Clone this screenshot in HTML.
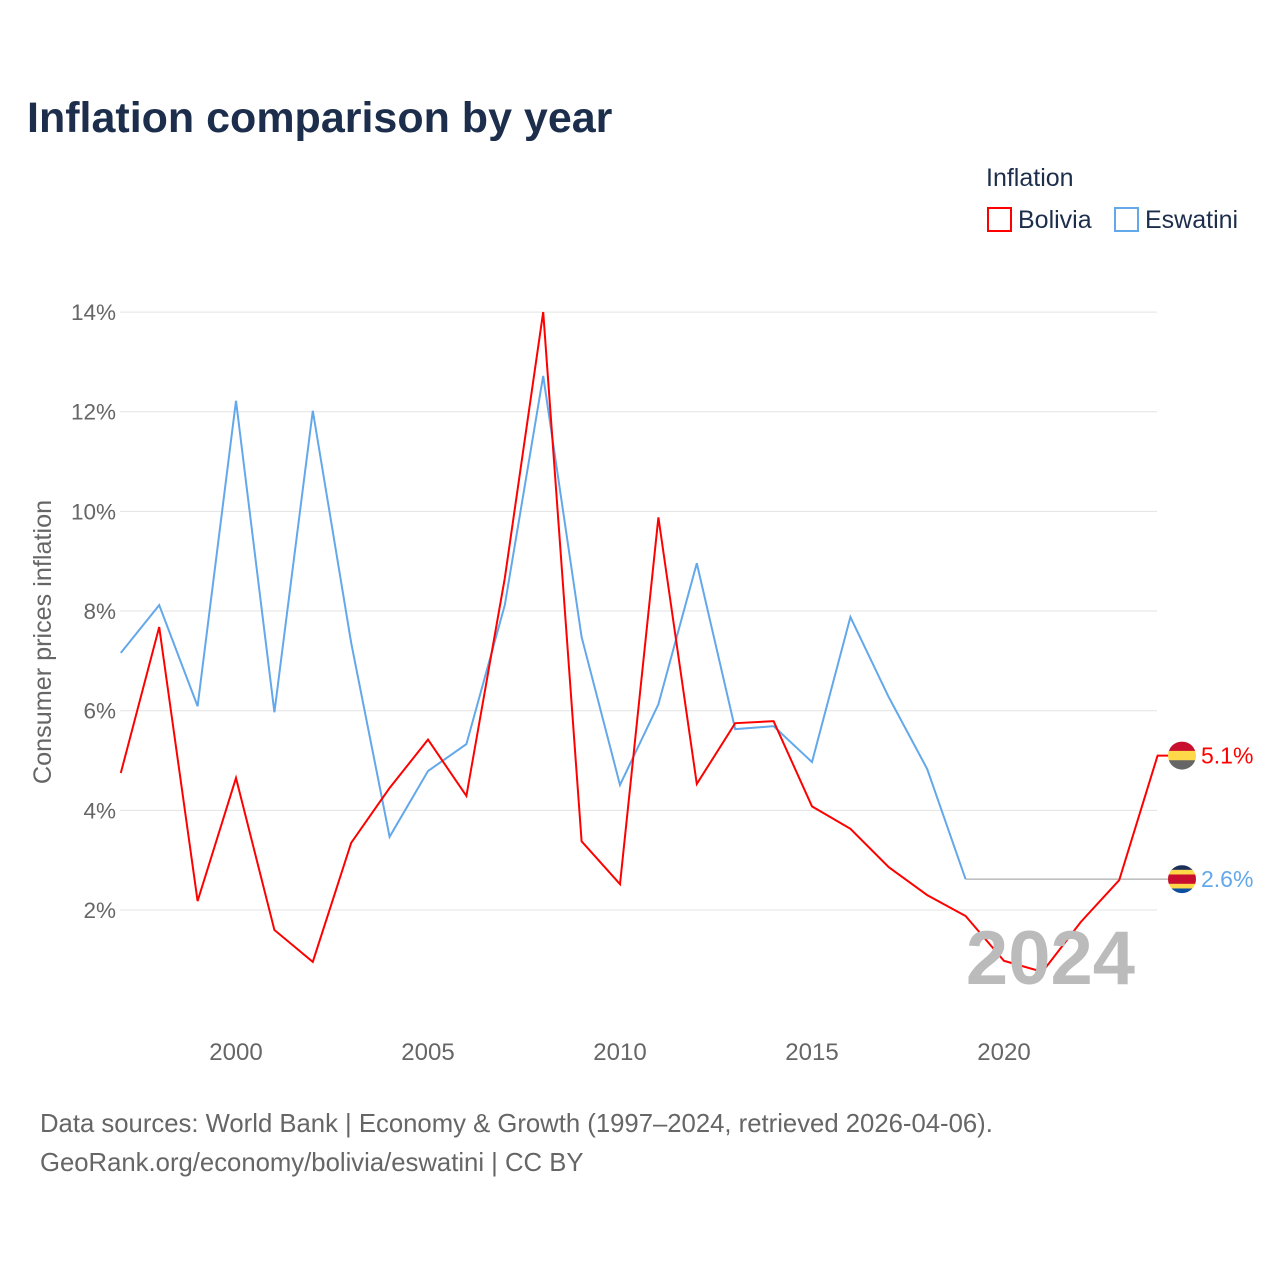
<!DOCTYPE html>
<html><head><meta charset="utf-8"><style>
body{margin:0;background:#fff;font-family:"Liberation Sans",sans-serif;}
</style></head><body>
<svg id="chart" width="1280" height="1280" xmlns="http://www.w3.org/2000/svg">
<text x="27" y="132" font-size="43" font-weight="bold" fill="#1c2e4c">Inflation comparison by year</text>
<text x="986" y="186" font-size="25" fill="#1c2e4c">Inflation</text>
<g><rect x="988" y="208" width="23" height="23" fill="none" stroke="#ff0000" stroke-width="2"/><text x="1018" y="228" font-size="25" fill="#1c2e4c">Bolivia</text></g>
<g><rect x="1115" y="208" width="23" height="23" fill="none" stroke="#62a8ea" stroke-width="2"/><text x="1145" y="228" font-size="25" fill="#1c2e4c">Eswatini</text></g>
<text transform="translate(51,642) rotate(-90)" text-anchor="middle" font-size="25.2" fill="#666">Consumer prices inflation</text>
<g id="grid"></g><g id="marks"></g>
<text x="1135" y="984" text-anchor="end" font-size="76" font-weight="bold" fill="#bbbbbb">2024</text>
<text x="40" y="1132" font-size="25.7" fill="#666">Data sources: World Bank | Economy &amp; Growth (1997–2024, retrieved 2026-04-06).</text>
<text x="40" y="1171" font-size="25.7" fill="#666">GeoRank.org/economy/bolivia/eswatini | CC BY</text>
</svg>
<script>
const years=[1997,1998,1999,2000,2001,2002,2003,2004,2005,2006,2007,2008,2009,2010,2011,2012,2013,2014,2015,2016,2017,2018,2019,2020,2021,2022,2023,2024];
const bolivia=[4.75,7.68,2.18,4.65,1.60,0.96,3.35,4.45,5.42,4.29,8.66,14.0,3.38,2.52,9.88,4.53,5.75,5.79,4.08,3.63,2.86,2.30,1.88,0.98,0.76,1.76,2.60,5.1];
const eswatiniYears=[1997,1998,1999,2000,2001,2002,2003,2004,2005,2006,2007,2008,2009,2010,2011,2012,2013,2014,2015,2016,2017,2018,2019];
const eswatini=[7.16,8.12,6.09,12.22,5.97,12.02,7.36,3.47,4.79,5.33,8.12,12.72,7.48,4.51,6.13,8.96,5.63,5.69,4.97,7.88,6.27,4.83,2.62];
const yTicks=[2,4,6,8,10,12,14];
const xTicks=[2000,2005,2010,2015,2020];
const NS="http://www.w3.org/2000/svg";
const X=v=>236+(v-2000)*38.4;
const Y=v=>1009.7-v*49.83;
const grid=document.getElementById('grid'),marks=document.getElementById('marks');
function el(t,a,p){const e=document.createElementNS(NS,t);for(const k in a)e.setAttribute(k,a[k]);p.appendChild(e);return e;}
yTicks.forEach(t=>{
 const l=el('line',{x1:120,x2:1157,y1:Y(t),y2:Y(t),stroke:'#e3e3e3','stroke-width':1},grid);
 
 
 const tx=el('text',{x:116,y:Y(t)+8,'text-anchor':'end','font-size':22.5,fill:'#666'},grid);
 tx.textContent=t+'%';
 
 
});
xTicks.forEach(t=>{
 const tx=el('text',{x:X(t),y:1060,'text-anchor':'middle','font-size':24,fill:'#666'},grid);
 tx.textContent=t;
 
 
});
const eLast=eswatini[eswatini.length-1];
const ext=el('line',{x1:X(eswatiniYears[eswatiniYears.length-1]),x2:1168,y1:Y(eLast),y2:Y(eLast),stroke:'#999','stroke-width':1},marks);


const pe=el('polyline',{points:eswatiniYears.map((y,i)=>X(y)+','+Y(eswatini[i])).join(' '),fill:'none',stroke:'#62a8ea','stroke-width':2},marks);


const bLast=bolivia[bolivia.length-1];
const pb=el('polyline',{points:years.map((y,i)=>X(y)+','+Y(bolivia[i])).join(' ')+' 1168,'+Y(bLast),fill:'none',stroke:'#ff0000','stroke-width':2},marks);


function flag(cy,cols,name){
 const g=el('g',{},marks);
 
 
 const id='c'+name;
 const cp=el('clipPath',{id:id},g);el('circle',{cx:1182,cy:cy,r:14},cp);
 const h=28/cols.length;
 cols.forEach((c,i)=>el('rect',{x:1168,y:cy-14+i*h,width:28,height:h+0.5,fill:c,'clip-path':'url(#'+id+')'},g));
}
flag(Y(bLast),['#c8102e','#ffd84a','#666666'],'bolivia-flag');
flag(Y(eLast),['#1c2e5a','#ffd84a','#c8102e','#c8102e','#ffd84a','#0b4ea2'],'eswatini-flag');
const lb=el('text',{x:1201,y:Y(bLast)+8,'font-size':23,fill:'#ff0000'},marks);lb.textContent=bLast.toFixed(1)+'%';


const le=el('text',{x:1201,y:Y(eLast)+8,'font-size':23,fill:'#62a8ea'},marks);le.textContent=eLast.toFixed(1)+'%';


</script>
</body></html>
